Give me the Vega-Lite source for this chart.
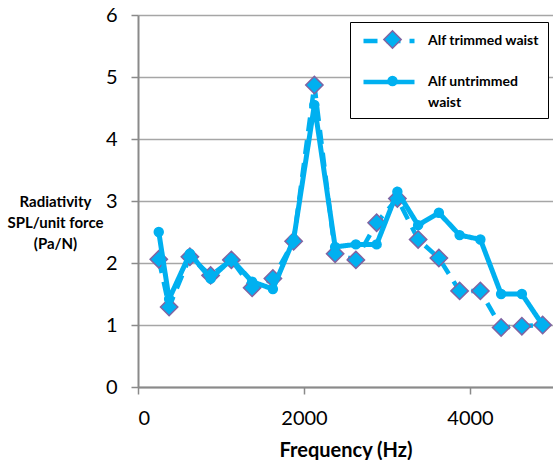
{
  "$schema": "https://vega.github.io/schema/vega-lite/v6.json",
  "width": 415,
  "height": 372,
  "autosize": {"type": "none"},
  "padding": {"left": 138, "top": 15, "right": 0, "bottom": 73},
  "background": "white",
  "config": {
    "view": {"stroke": null},
    "font": "Lato",
    "axis": {
      "domainColor": "#8a8a8a",
      "domainWidth": 2,
      "tickColor": "#8a8a8a",
      "tickWidth": 1.5,
      "tickSize": 7,
      "gridColor": "#a6a6a6",
      "gridWidth": 1.5,
      "labelColor": "#000000",
      "labelFont": "Lato",
      "labelFontSize": 20,
      "titleColor": "#000000",
      "titleFont": "Lato",
      "titleFontWeight": "bold"
    }
  },
  "data": {
    "values": [
      {"f": 250, "v": 2.06, "s": "Alf trimmed waist"},
      {"f": 375, "v": 1.29, "s": "Alf trimmed waist"},
      {"f": 625, "v": 2.1, "s": "Alf trimmed waist"},
      {"f": 875, "v": 1.8, "s": "Alf trimmed waist"},
      {"f": 1125, "v": 2.05, "s": "Alf trimmed waist"},
      {"f": 1375, "v": 1.6, "s": "Alf trimmed waist"},
      {"f": 1625, "v": 1.75, "s": "Alf trimmed waist"},
      {"f": 1875, "v": 2.35, "s": "Alf trimmed waist"},
      {"f": 2125, "v": 4.87, "s": "Alf trimmed waist"},
      {"f": 2375, "v": 2.15, "s": "Alf trimmed waist"},
      {"f": 2625, "v": 2.05, "s": "Alf trimmed waist"},
      {"f": 2875, "v": 2.65, "s": "Alf trimmed waist"},
      {"f": 3125, "v": 3.04, "s": "Alf trimmed waist"},
      {"f": 3375, "v": 2.38, "s": "Alf trimmed waist"},
      {"f": 3625, "v": 2.08, "s": "Alf trimmed waist"},
      {"f": 3875, "v": 1.55, "s": "Alf trimmed waist"},
      {"f": 4125, "v": 1.55, "s": "Alf trimmed waist"},
      {"f": 4375, "v": 0.96, "s": "Alf trimmed waist"},
      {"f": 4625, "v": 0.98, "s": "Alf trimmed waist"},
      {"f": 4875, "v": 1.0, "s": "Alf trimmed waist"},
      {"f": 250, "v": 2.5, "s": "Alf untrimmed waist"},
      {"f": 375, "v": 1.42, "s": "Alf untrimmed waist"},
      {"f": 625, "v": 2.15, "s": "Alf untrimmed waist"},
      {"f": 875, "v": 1.75, "s": "Alf untrimmed waist"},
      {"f": 1125, "v": 2.06, "s": "Alf untrimmed waist"},
      {"f": 1375, "v": 1.7, "s": "Alf untrimmed waist"},
      {"f": 1625, "v": 1.58, "s": "Alf untrimmed waist"},
      {"f": 1875, "v": 2.38, "s": "Alf untrimmed waist"},
      {"f": 2125, "v": 4.55, "s": "Alf untrimmed waist"},
      {"f": 2375, "v": 2.26, "s": "Alf untrimmed waist"},
      {"f": 2625, "v": 2.3, "s": "Alf untrimmed waist"},
      {"f": 2875, "v": 2.3, "s": "Alf untrimmed waist"},
      {"f": 3125, "v": 3.15, "s": "Alf untrimmed waist"},
      {"f": 3375, "v": 2.61, "s": "Alf untrimmed waist"},
      {"f": 3625, "v": 2.81, "s": "Alf untrimmed waist"},
      {"f": 3875, "v": 2.45, "s": "Alf untrimmed waist"},
      {"f": 4125, "v": 2.38, "s": "Alf untrimmed waist"},
      {"f": 4375, "v": 1.5, "s": "Alf untrimmed waist"},
      {"f": 4625, "v": 1.5, "s": "Alf untrimmed waist"},
      {"f": 4875, "v": 1.0, "s": "Alf untrimmed waist"}
    ]
  },
  "encoding": {
    "x": {
      "field": "f",
      "type": "quantitative",
      "scale": {"domain": [0, 5000], "nice": false},
      "axis": {
        "values": [0, 2000, 4000],
        "format": "d",
        "grid": false,
        "labelPadding": 14,
        "title": "Frequency (Hz)",
        "titleFontSize": 20,
        "titlePadding": 12
      }
    },
    "y": {
      "field": "v",
      "type": "quantitative",
      "scale": {"domain": [0, 6], "nice": false},
      "axis": {
        "values": [0, 1, 2, 3, 4, 5, 6],
        "grid": true,
        "labelPadding": 14,
        "title": ["Radiativity", "SPL/unit force", "(Pa/N)"],
        "titleAngle": 0,
        "titleFontSize": 15,
        "titleLineHeight": 21,
        "titleAlign": "center",
        "titleBaseline": "middle",
        "titleX": -83,
        "titleY": 186
      }
    }
  },
  "layer": [
    {
      "transform": [{"filter": "datum.s == 'Alf trimmed waist'"}],
      "mark": {"type": "line", "stroke": "#00B0F0", "strokeWidth": 4.5},
      "encoding": {
        "strokeDash": {
          "field": "s",
          "type": "nominal",
          "scale": {"range": [[14, 9], [1, 0]]},
          "legend": {
            "title": null,
            "orient": "none",
            "legendX": 212,
            "legendY": 7,
            "padding": 8,
            "strokeColor": "#000000",
            "fillColor": "#ffffff",
            "symbolType": "M-3,0H3",
            "symbolSize": 289,
            "symbolOffset": 20,
            "symbolStrokeWidth": 4.5,
            "symbolStrokeColor": "#00B0F0",
            "labelFont": "Lato",
            "labelFontSize": 14,
            "labelFontWeight": "bold",
            "labelColor": "#000000",
            "labelOffset": 28,
            "labelLimit": 300,
            "rowPadding": 21,
            "labelExpr": "datum.label == 'Alf untrimmed waist' ? ['Alf untrimmed', 'waist'] : datum.label",
            "encode": {"labels": {"update": {"lineHeight": {"value": 21}}}}
          }
        }
      }
    },
    {
      "transform": [{"filter": "datum.s == 'Alf trimmed waist'"}],
      "mark": {"type": "point", "filled": true, "fill": "#00B0F0", "strokeWidth": 1.5, "opacity": 1},
      "encoding": {
        "shape": {
          "field": "s",
          "type": "nominal",
          "scale": {"domain": ["Alf trimmed waist", "Alf untrimmed waist"], "range": ["diamond", "circle"]},
          "legend": {
            "title": null,
            "orient": "none",
            "legendX": 237,
            "legendY": 7,
            "padding": 8,
            "symbolFillColor": "#00B0F0",
            "symbolStrokeWidth": 1.5,
            "labelFontSize": 14,
            "labelOffset": 16,
            "rowPadding": 21,
            "labelExpr": "''"
          }
        },
        "size": {
          "field": "s",
          "type": "nominal",
          "scale": {"domain": ["Alf trimmed waist", "Alf untrimmed waist"], "range": [300, 80]},
          "legend": {
            "title": null,
            "orient": "none",
            "legendX": 237,
            "legendY": 7,
            "padding": 8,
            "symbolFillColor": "#00B0F0",
            "symbolStrokeWidth": 1.5,
            "labelFontSize": 14,
            "labelOffset": 16,
            "rowPadding": 21,
            "labelExpr": "''"
          }
        },
        "stroke": {
          "field": "s",
          "type": "nominal",
          "scale": {"domain": ["Alf trimmed waist", "Alf untrimmed waist"], "range": ["#8064A2", "#00B0F0"]},
          "legend": {
            "title": null,
            "orient": "none",
            "legendX": 237,
            "legendY": 7,
            "padding": 8,
            "symbolFillColor": "#00B0F0",
            "symbolStrokeWidth": 1.5,
            "labelFontSize": 14,
            "labelOffset": 16,
            "rowPadding": 21,
            "labelExpr": "''"
          }
        }
      }
    },
    {
      "transform": [{"filter": "datum.s == 'Alf untrimmed waist'"}],
      "mark": {"type": "line", "stroke": "#00B0F0", "strokeWidth": 5},
      "encoding": {
        "strokeDash": {"field": "s", "type": "nominal"}
      }
    },
    {
      "transform": [{"filter": "datum.s == 'Alf untrimmed waist'"}],
      "mark": {"type": "point", "filled": true, "fill": "#00B0F0", "strokeWidth": 1.5, "opacity": 1},
      "encoding": {
        "shape": {"field": "s", "type": "nominal"},
        "size": {"field": "s", "type": "nominal"},
        "stroke": {"field": "s", "type": "nominal"}
      }
    }
  ]
}
